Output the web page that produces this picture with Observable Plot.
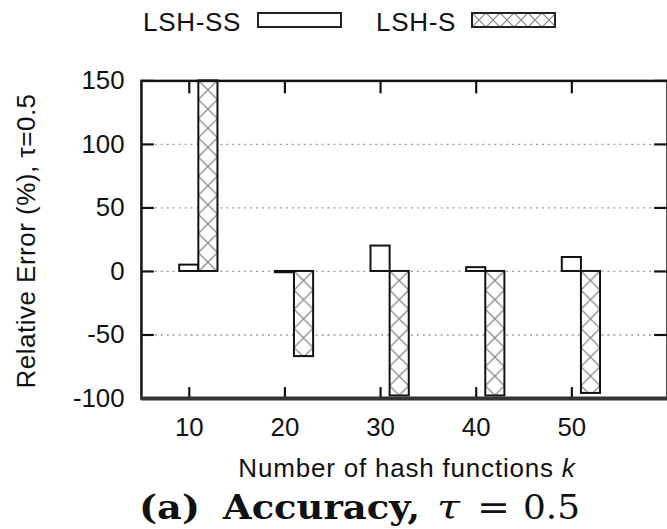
<!DOCTYPE html>
<html><head><meta charset="utf-8">
<script src="https://cdn.jsdelivr.net/npm/d3@7"></script>
<script src="https://cdn.jsdelivr.net/npm/@observablehq/plot@0.6"></script>
<style>
body{margin:0;background:#fff;}
#wrap{position:relative;width:667px;height:529px;overflow:hidden;}
#wrap > svg{position:absolute;left:0;top:0;}
</style></head><body>
<svg width="0" height="0" style="position:absolute">
  <defs>
    <pattern id="xhatch" patternUnits="userSpaceOnUse" width="19.3" height="19.3">
      <rect width="19.3" height="19.3" fill="white"/>
      <path d="M0,0L19.3,19.3M19.3,0L0,19.3" stroke="#888" stroke-width="1.3" fill="none"/>
    </pattern>
  </defs>
</svg>
<div id="wrap"></div>
<script>
// ---- data ----
const ks = [10, 20, 30, 40, 50];
const lshSS = [5, -1, 20, 3, 11];
const lshS = [150, -67, -98, -98, -96];
const seriesNames = ["LSH-SS", "LSH-S"];
const yTicks = [150, 100, 50, 0, -50, -100];
const xTicks = [10, 20, 30, 40, 50];
const gridTicks = [100, 50, 0, -50];
const xDomain = [5, 60];
const yDomain = [-100, 150];

const ssRows = ks.map((k, i) => ({k, series: seriesNames[0], value: lshSS[i]}));
const sRows = ks.map((k, i) => ({k, series: seriesNames[1], value: lshS[i]}));

const FONT = "'Liberation Sans', Arial, Helvetica, sans-serif";
const INK = "#111";
const fmt = d => String(d);

const W = 672, H = 529, ML = 142, MR = 0, MT = 81, MB = 128;
const FW = W - ML - MR, FH = H - MT - MB;

const plot = Plot.plot({
  width: W, height: H,
  marginLeft: ML, marginRight: MR, marginTop: MT, marginBottom: MB,
  x: {domain: xDomain},
  y: {domain: yDomain},
  style: {fontFamily: FONT, fontSize: "26px", color: INK, background: "transparent", overflow: "visible"},
  marks: [
    Plot.gridY(gridTicks, {stroke: "#999", strokeOpacity: 1, strokeWidth: 1.3, strokeDasharray: "2,4", insetLeft: 14, insetRight: 14}),
    Plot.rect(ssRows, {x1: d => d.k - 1, x2: d => d.k + 1, y1: 0, y2: "value", fill: "white", stroke: INK, strokeWidth: 2}),
    Plot.rect(sRows, {x1: d => d.k + 1, x2: d => d.k + 3, y1: 0, y2: "value", fill: "url(#xhatch)", stroke: INK, strokeWidth: 2}),
    // inward tick marks on all four sides
    Plot.tickY(yTicks, {y: d => d, insetRight: FW - 13, stroke: INK, strokeWidth: 2.2}),
    Plot.tickY(yTicks, {y: d => d, insetLeft: FW - 13, stroke: INK, strokeWidth: 2.2}),
    Plot.tickX(xTicks, {x: d => d, insetTop: FH - 11, stroke: INK, strokeWidth: 2.2}),
    Plot.tickX(xTicks, {x: d => d, insetBottom: FH - 13, stroke: INK, strokeWidth: 2.2}),
    Plot.frame({stroke: INK, strokeWidth: 2.5}),
    Plot.ruleY([yDomain[0]], {stroke: "#333", strokeWidth: 4}),
    Plot.axisY(yTicks, {anchor: "left", tickSize: 0, tickPadding: 17, tickFormat: fmt, label: null}),
    Plot.axisX(xTicks, {anchor: "bottom", tickSize: 0, tickPadding: 19, tickFormat: fmt, label: null})
  ]
});
document.getElementById("wrap").appendChild(plot);

// hatch patterns aligned to each bar
const svg = d3.select(plot);
const defs = svg.insert("defs", ":first-child");
svg.selectAll("g").filter(function() { return (this.getAttribute("fill") || "").includes("xhatch"); })
  .selectAll("rect").each(function(_, i) {
    const r = d3.select(this);
    const x = +r.attr("x"), y = +r.attr("y"), w = +r.attr("width");
    const p = defs.append("pattern").attr("id", "xh" + i).attr("patternUnits", "userSpaceOnUse")
      .attr("x", x).attr("y", y).attr("width", w).attr("height", w);
    p.append("rect").attr("width", w).attr("height", w).attr("fill", "white");
    p.append("path").attr("d", `M0,0L${w},${w}M${w},0L0,${w}`).attr("stroke", "#888").attr("stroke-width", 1.3).attr("fill", "none");
    r.attr("fill", `url(#xh${i})`);
  });

// overlay: legend, axis titles, caption
const ov = d3.select("#wrap").append("svg").attr("width", 667).attr("height", 529)
  .style("font-family", FONT).style("fill", INK);
const odefs = ov.append("defs");
const lp = odefs.append("pattern").attr("id", "xhl").attr("patternUnits", "userSpaceOnUse")
  .attr("x", 472).attr("y", 13).attr("width", 14).attr("height", 14);
lp.append("rect").attr("width", 14).attr("height", 14).attr("fill", "white");
lp.append("path").attr("d", "M0,0L14,14M14,0L0,14").attr("stroke", "#888").attr("stroke-width", 1.2).attr("fill", "none");

const legend = [
  {name: seriesNames[0], tx: 143, bx: 258, fill: "white"},
  {name: seriesNames[1], tx: 376, bx: 472, fill: "url(#xhl)"}
];
legend.forEach(l => {
  ov.append("text").attr("x", l.tx).attr("y", 31).attr("font-size", 26).attr("letter-spacing", 0.7).text(l.name);
  ov.append("rect").attr("x", l.bx).attr("y", 13).attr("width", 83).attr("height", 14)
    .attr("fill", l.fill).attr("stroke", "#222").attr("stroke-width", 2);
});

ov.append("text").attr("transform", "translate(35,241) rotate(-90)").attr("text-anchor", "middle")
  .attr("font-size", 26).attr("letter-spacing", 0.5).text("Relative Error (%), τ=0.5");

const xl = ov.append("text").attr("x", 407).attr("y", 477).attr("text-anchor", "middle")
  .attr("font-size", 26).attr("letter-spacing", 0.8);
xl.append("tspan").text("Number of hash functions ");
xl.append("tspan").attr("font-style", "italic").text("k");

const cap = [
  {t: "(a)", x: 139, w: 61, weight: "bold", style: "normal"},
  {t: "Accuracy,", x: 223, w: 197, weight: "bold", style: "normal"},
  {t: "τ", x: 437, w: 23, weight: "normal", style: "italic"},
  {t: "=", x: 477, w: 33, weight: "normal", style: "normal"},
  {t: "0.5", x: 523, w: 57, weight: "normal", style: "normal"}
];
cap.forEach(c => {
  ov.append("text").attr("x", c.x).attr("y", 519).attr("font-family", "'DejaVu Serif', serif")
    .attr("font-size", 33).attr("font-weight", c.weight).attr("font-style", c.style)
    .attr("textLength", c.w).attr("lengthAdjust", "spacingAndGlyphs").text(c.t);
});
</script></body></html>
